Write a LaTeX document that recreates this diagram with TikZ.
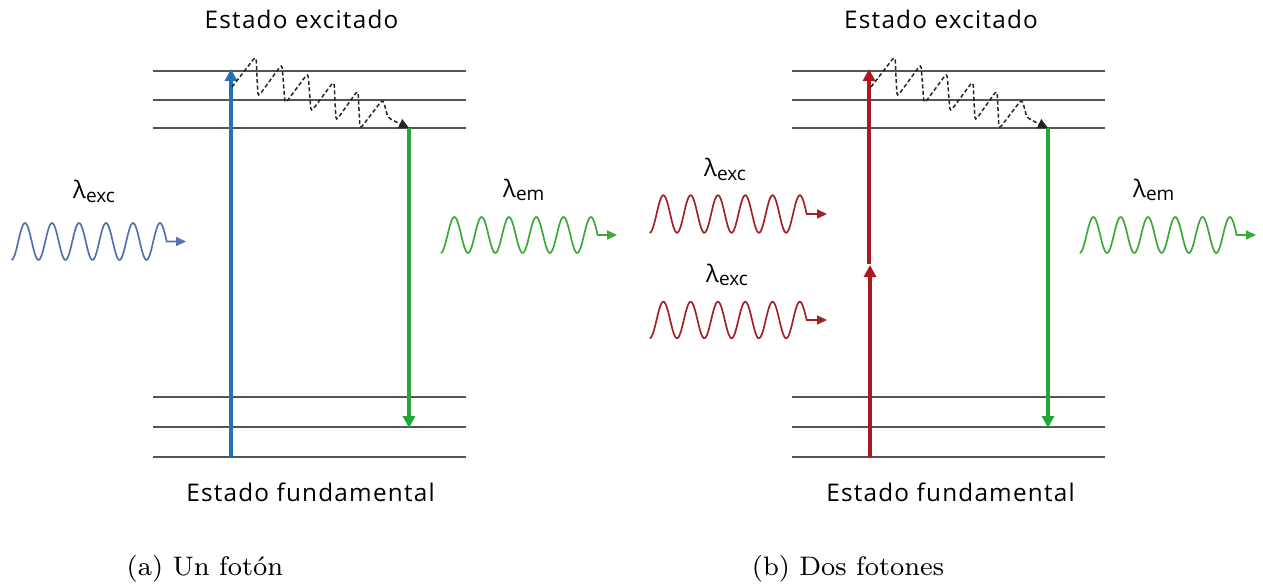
\documentclass[tikz,border=0pt]{standalone}
\usepackage{fontspec}
\newfontfamily\labfont{Open Sans}
\newfontfamily\titlefont{Open Sans}[LetterSpace=5]
\newfontfamily\capfont{lmroman8-regular.otf}
\usetikzlibrary{arrows.meta}
\definecolor{lvlgray}{HTML}{555555}
\definecolor{exblue}{HTML}{2471B5}
\definecolor{emgreen}{HTML}{22A836}
\definecolor{exred}{HTML}{AE1620}
\definecolor{wblue}{HTML}{5572AE}
\definecolor{wred}{HTML}{A0232A}
\definecolor{wgreen}{HTML}{3BAA3B}
\tikzset{
  level/.style={draw=lvlgray, line width=2.2pt},
  trans/.style={line width=4pt, -{Triangle[length=12pt,width=12pt]}},
  relax/.style={black!85, line width=1.5pt, dash pattern=on 4pt off 2.5pt, rounded corners=4pt, -{Triangle[length=10pt,width=10pt]}},
  wave/.style={line width=1.7pt, -{Triangle[length=10pt,width=9pt]}},
  lab/.style={font=\labfont\fontsize{24}{26}\selectfont, inner sep=0pt, anchor=base west},
  ttl/.style={font=\titlefont\fontsize{24.3}{26}\selectfont, inner sep=0pt, anchor=base},
  captext/.style={font=\capfont\fontsize{26.8}{30}\selectfont, inner sep=0pt, anchor=base},
}
\newcommand\photonwave[7]{% color, x0, center, amp, period, tip x, name
  \draw[wave, #1] plot[domain=0:5.75, samples=140, smooth] ({#2+\x*#5}, {#3+#4*cos(360*\x)}) -- (#6,#3) coordinate (#7);
}
\newcommand\lamlab[3]{\node[lab] (#3) at (#1) {λ\raisebox{-0.3ex}{\fontsize{19}{19}\selectfont #2}};}
\begin{document}
\begin{tikzpicture}[x=1pt,y=-1pt]
\useasboundingbox (0,0) rectangle (1263,588);
% energy levels
\foreach \o/\p in {0/L,639/R}{
  \foreach \yy/\n in {71/a,100/b,128/c,397/d,427/e,457/f}{
    \draw[level] (153+\o,\yy) coordinate (\p\n-w) -- (466+\o,\yy) coordinate (\p\n-e);
  }
}
% titles
\node[ttl] (tl) at (301.5,28.5) {Estado excitado};
\node[ttl] (tr) at (941,28.5) {Estado excitado};
\node[ttl] (bl) at (310.5,501) {Estado fundamental};
\node[ttl] (br) at (950.5,501) {Estado fundamental};
% captions
\node[captext] (ca) at (205,575) {(a) Un fotón};
\node[captext] (cb) at (848,575) {(b) Dos fotones};
% left panel transitions
\coordinate (bluebot) at (231,457);
\coordinate (bluetop) at (231,69);
\draw[trans, exblue] (bluebot) -- (bluetop);
\coordinate (gLtop) at (409,128);
\coordinate (gLbot) at (409,428);
\draw[trans, emgreen] (gLtop) -- (gLbot);
\coordinate (rlxL) at (232,87);
\coordinate (rlxLend) at (409,128);
\draw[relax] (rlxL) -- (256,56) -- (258,97) -- (282,64) -- (285,104) -- (308,73) -- (311,112) -- (334,81) -- (336,121) -- (358,90) -- (360,129) -- (383,99) -- (388,118) -- (rlxLend);
% right panel transitions
\coordinate (redbot) at (870,457);
\coordinate (redmid) at (870,265);
\coordinate (redmid2) at (869,264);
\coordinate (redtop) at (869,69);
\draw[trans, exred] (redbot) -- (redmid);
\draw[trans, exred] (redmid2) -- (redtop);
\coordinate (gRtop) at (1048,128);
\coordinate (gRbot) at (1048,428);
\draw[trans, emgreen] (gRtop) -- (gRbot);
\coordinate (rlxR) at (871,87);
\coordinate (rlxRend) at (1048,128);
\draw[relax] (rlxR) -- (895,56) -- (897,97) -- (921,64) -- (924,104) -- (947,73) -- (950,112) -- (973,81) -- (975,121) -- (997,90) -- (999,129) -- (1022,99) -- (1027,118) -- (rlxRend);
% photon waves
\photonwave{wblue}{11.5}{241.5}{18.5}{27}{186}{wb}
\photonwave{wgreen}{440.7}{235}{18}{27.3}{617}{wgl}
\photonwave{wred}{649.7}{214}{18.8}{27.3}{827}{wr1}
\photonwave{wred}{649.7}{320}{18.3}{27.3}{827}{wr2}
\photonwave{wgreen}{1079.7}{235}{18}{27.3}{1256}{wgr}
% wavelength labels
\lamlab{73,199}{exc}{l1}
\lamlab{503,197}{em}{l2}
\lamlab{704,177}{exc}{l3}
\lamlab{706,282}{exc}{l4}
\lamlab{1133,197}{em}{l5}
\end{tikzpicture}
\end{document}
